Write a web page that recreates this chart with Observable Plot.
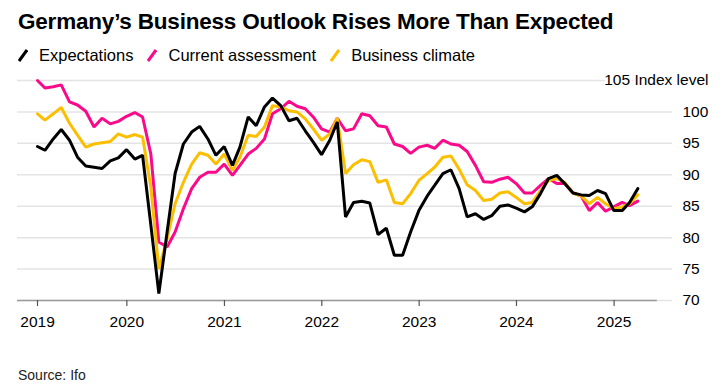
<!DOCTYPE html>
<html>
<head>
<meta charset="utf-8">
<script src="https://cdn.jsdelivr.net/npm/d3@7"></script>
<script src="https://cdn.jsdelivr.net/npm/@observablehq/plot@0.6"></script>
<style>
  html, body { margin: 0; padding: 0; background: #fff; }
  body { width: 722px; height: 385px; position: relative; overflow: hidden;
         font-family: "Liberation Sans", Arial, Helvetica, sans-serif; color: #000; }
  #title { position: absolute; left: 18px; top: 9px; font-weight: bold; font-size: 22.5px; line-height: 26px; white-space: nowrap; letter-spacing: -0.2px; }
  #legend { position: absolute; left: 18px; top: 45px; font-size: 16.5px; line-height: 20px; white-space: nowrap; display: flex; align-items: center; }
  .item { display: flex; align-items: center; margin-right: 14px; }
  .item svg { margin-right: 11px; }
  #chart { position: absolute; left: 0; top: 60px; }
  #source { position: absolute; left: 18px; top: 367px; font-size: 14px; color: #222; }
</style>
</head>
<body>
<div id="title">Germany’s Business Outlook Rises More Than Expected</div>
<div id="legend"></div>
<div id="chart"></div>
<div id="source">Source: Ifo</div>
<script>
// Monthly data, Jan 2019 – Mar 2025 (index level, 2015 = 100)
const startYear = 2019, startMonth = 0;
const expectations = [
  94.5, 93.9, 95.7, 97.2, 95.5, 92.8, 91.4, 91.2, 91.0, 92.2, 92.7, 94.0,
  92.5, 93.1, 82.0, 71.1, 80.9, 90.2, 94.9, 96.8, 97.7, 95.7, 93.1, 94.5,
  91.5, 94.4, 99.2, 97.8, 100.8, 102.2, 101.0, 98.6, 99.0, 97.0, 95.2, 93.2,
  95.5, 98.4, 83.3, 85.6, 85.8, 85.5, 80.5, 81.5, 77.2, 77.2, 80.9, 84.3,
  86.6, 88.3, 90.2, 90.8, 87.8, 83.3, 83.8, 82.9, 83.5, 85.0, 85.2, 84.7,
  84.1, 84.9, 87.0, 89.4, 89.9, 88.6, 87.1, 86.8, 86.7, 87.5, 87.0, 84.3,
  84.3, 85.6, 87.8
];
const currentAssessment = [
  105.0, 103.8, 104.0, 104.3, 101.6, 101.1, 100.1, 97.6, 99.0, 98.1, 98.5, 99.3,
  99.9, 99.2, 93.3, 79.3, 78.5, 80.9, 84.6, 87.8, 89.6, 90.4, 90.4, 91.7,
  89.9, 91.5, 93.3, 94.2, 95.7, 99.7, 100.5, 101.7, 100.9, 100.5, 99.2, 97.3,
  96.8, 99.0, 97.0, 97.3, 99.7, 99.4, 97.8, 97.6, 94.9, 94.5, 93.4, 94.4,
  94.7, 94.2, 95.5, 94.9, 94.7, 93.7, 91.5, 88.9, 88.8, 89.3, 89.6, 88.6,
  87.1, 87.1, 88.3, 89.4, 88.6, 88.6, 87.1, 86.6, 84.3, 85.6, 84.2, 84.9,
  85.6, 85.1, 85.8
];
const businessClimate = [
  99.7, 98.7, 99.7, 100.7, 98.2, 96.3, 94.4, 94.9, 95.1, 95.3, 96.5, 96.0,
  96.4, 96.0, 88.0, 75.0, 79.8, 85.4, 88.8, 91.7, 93.5, 93.1, 91.7, 93.3,
  90.7, 92.8, 96.3, 96.1, 97.6, 101.0, 100.8, 100.2, 100.0, 98.9, 97.3, 95.5,
  96.5, 99.0, 90.2, 91.6, 92.4, 92.1, 88.8, 89.2, 85.6, 85.4, 87.0, 89.1,
  90.2, 91.2, 92.8, 93.0, 90.9, 88.4, 87.5, 85.9, 86.1, 87.1, 87.3, 86.4,
  85.4, 85.6, 87.5, 89.1, 89.4, 88.8, 87.1, 86.6, 85.4, 86.4, 85.4, 84.6,
  84.9, 85.4, 86.8
];
const seriesNames = ["Expectations", "Current assessment", "Business climate"];
const seriesColors = ["#000000", "#fa0a8a", "#fcbf00"];
const yTicks = [70, 75, 80, 85, 90, 95, 100, 105];
const yTopLabel = "105 Index level";
const xTickLabels = ["2019", "2020", "2021", "2022", "2023", "2024", "2025"];

// each monthly reading is plotted at the end of its month
const monthEnd = i => new Date(Date.UTC(startYear, startMonth + i + 1, 0));
const rows = (vals, name) => vals.map((v, i) => ({date: monthEnd(i), value: v, series: name}));
const dataExp = rows(expectations, seriesNames[0]);
const dataCur = rows(currentAssessment, seriesNames[1]);
const dataClim = rows(businessClimate, seriesNames[2]);

// first tick sits at the first observation, the rest at January 1
const xTicks = xTickLabels.map((y, i) => i === 0 ? monthEnd(0) : new Date(Date.UTC(+y, 0, 1)));
const xDomain = [new Date(Date.UTC(2018, 10, 17)), new Date(Date.UTC(2025, 7, 8))];
const axisEnd = new Date(Date.UTC(2025, 5, 12));

// legend
const legend = document.getElementById("legend");
seriesNames.forEach((name, i) => {
  const item = document.createElement("div");
  item.className = "item";
  item.innerHTML = `<svg width="10" height="13" viewBox="0 0 10 13"><line x1="1" y1="12" x2="9" y2="1" stroke="${seriesColors[i]}" stroke-width="3" stroke-linecap="butt"/></svg><span>${name}</span>`;
  legend.appendChild(item);
});

const font = '"Liberation Sans", Arial, Helvetica, sans-serif';
const chart = Plot.plot({
  width: 722,
  height: 290,
  marginTop: 20,
  marginBottom: 50,
  marginLeft: 17,
  marginRight: 50,
  style: {fontFamily: font, fontSize: "15.5px", color: "#000", background: "transparent", overflow: "visible"},
  x: {type: "utc", domain: xDomain},
  y: {domain: [70, 105], axis: null},
  marks: [
    Plot.ruleY(yTicks, {stroke: "#e4e4e4", strokeWidth: 1.5}),
    Plot.ruleY([70], {x1: () => xDomain[0], x2: () => axisEnd, stroke: "#9a9a9a", strokeWidth: 1.5}),
    Plot.axisX({ticks: xTicks, tickFormat: (d, i) => xTickLabels[i], tickSize: 6, tickPadding: 9,
                stroke: "#555", strokeWidth: 1.2, fill: "#000", label: null, fontSize: 15.5}),
    Plot.lineY(dataCur, {x: "date", y: "value", stroke: seriesColors[1], strokeWidth: 3, strokeLinejoin: "miter"}),
    Plot.lineY(dataClim, {x: "date", y: "value", stroke: seriesColors[2], strokeWidth: 3, strokeLinejoin: "miter"}),
    Plot.lineY(dataExp, {x: "date", y: "value", stroke: seriesColors[0], strokeWidth: 3, strokeLinejoin: "miter"}),
    Plot.text(yTicks.filter(d => d !== 105), {y: d => d, text: d => String(d), frameAnchor: "right",
               textAnchor: "start", dx: 10, fill: "#000", fontSize: 15.5}),
    Plot.text([105], {y: d => d, text: () => yTopLabel, frameAnchor: "right", textAnchor: "end",
               dx: 36, fill: "#000", stroke: "white", strokeWidth: 5, fontSize: 15.5})
  ]
});
document.getElementById("chart").appendChild(chart);
</script>
</body>
</html>
